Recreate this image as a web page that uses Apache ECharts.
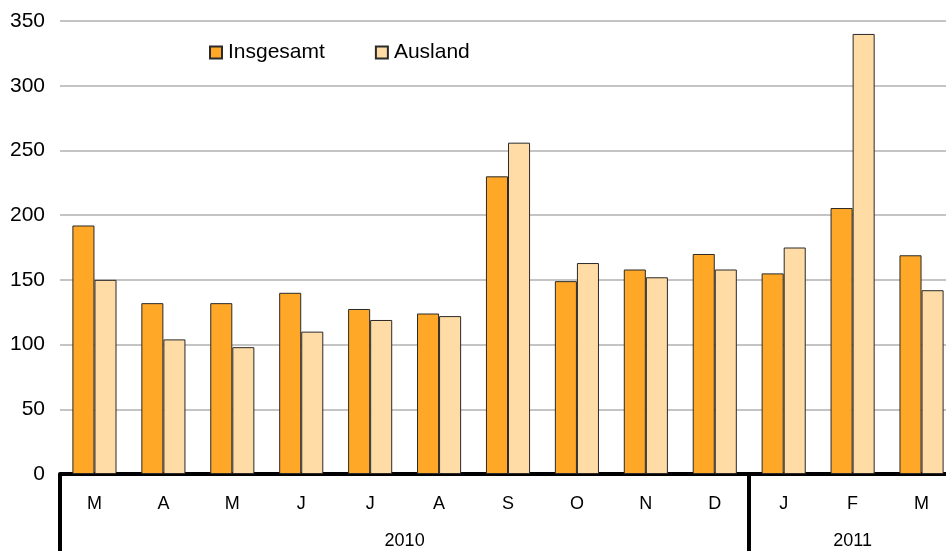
<!DOCTYPE html>
<html><head><meta charset="utf-8">
<script src="https://cdn.jsdelivr.net/npm/echarts@6/dist/echarts.min.js"></script>
<style>html,body{margin:0;padding:0;background:#fff}#c{width:946px;height:551px}</style>
</head><body><div id="c"></div>
<script>
const months = ['M','A','M','J','J','A','S','O','N','D','J','F','M'];
const years = ['2010','2011'];
const monthsPerYear = [10, 3];
const insgesamt = [192, 132, 132, 140, 127.5, 124, 230, 149, 158, 170, 155, 205.5, 169];
const ausland   = [150, 104, 98, 110, 119, 122, 256, 163, 152, 158, 175, 340, 142];
const yTicks = [0, 50, 100, 150, 200, 250, 300, 350];

const boundaries = [0];
const centers = [];
monthsPerYear.forEach(n => { const s = boundaries[boundaries.length-1]; centers.push(s + n/2); boundaries.push(s + n); });

const font = 'Liberation Sans, Arial, sans-serif';
const chart = echarts.init(document.getElementById('c'), null, {renderer:'canvas'});
chart.setOption({
  animation: false,
  grid: {left: 60, width: 896, top: 21, bottom: 77, containLabel: false, outerBoundsMode: 'none'},
  legend: {
    left: 204, top: 37, itemWidth: 12, itemHeight: 12, itemGap: 50,
    icon: 'rect',
    textStyle: {fontFamily: font, fontSize: 21, color: '#000', padding: [0,0,0,1]},
    data: ['Insgesamt', 'Ausland']
  },
  xAxis: [{
    type: 'category', data: months, position: 'bottom',
    axisLine: {show: true, lineStyle: {color: '#000', width: 4}},
    axisTick: {show: false},
    axisLabel: {fontFamily: font, fontSize: 18, color: '#000', margin: 21, interval: 0}
  }, {
    type: 'value', min: 0, max: boundaries[boundaries.length-1], position: 'bottom',
    axisLine: {show: false}, splitLine: {show: false},
    axisTick: {show: true, customValues: boundaries.slice(0, -1), length: 80, lineStyle: {color: '#000', width: 4}},
    axisLabel: {customValues: centers, fontFamily: font, fontSize: 18, color: '#000', margin: 58,
      formatter: v => { const i = centers.indexOf(v); return i >= 0 ? years[i] : ''; }}
  }],
  yAxis: {
    type: 'value', min: 0, max: 350, interval: 50,
    axisLine: {show: false}, axisTick: {show: false},
    axisLabel: {fontFamily: font, fontSize: 21, color: '#000', margin: 15,
      formatter: v => yTicks.includes(v) ? String(v) : ''},
    splitLine: {lineStyle: {color: '#c4c4c4', width: 2}}
  },
  series: [{
    name: 'Insgesamt', type: 'bar', xAxisIndex: 0, data: insgesamt,
    barGap: '0%', barCategoryGap: '36%',
    itemStyle: {color: '#FFA726', borderColor: '#2a2a2a', borderWidth: 1}
  }, {
    name: 'Ausland', type: 'bar', xAxisIndex: 0, data: ausland,
    barGap: '0%', barCategoryGap: '36%',
    itemStyle: {color: '#FFDCA5', borderColor: '#2a2a2a', borderWidth: 1}
  }]
});
</script></body></html>
